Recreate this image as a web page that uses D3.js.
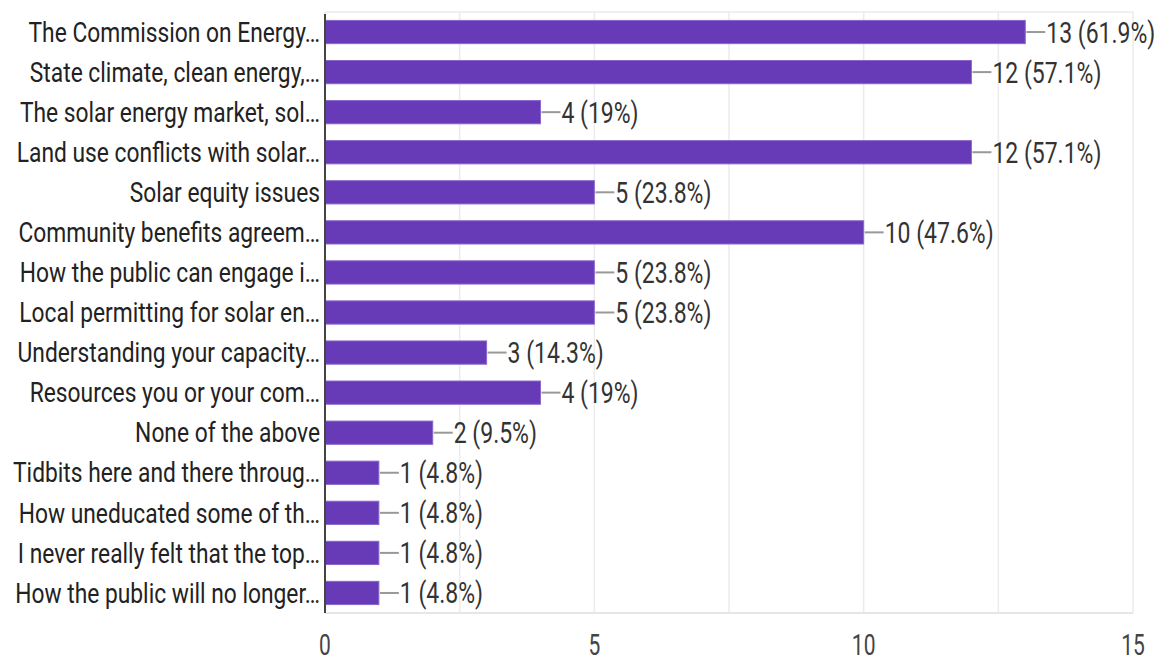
<!DOCTYPE html>
<html>
<head>
<meta charset="utf-8">
<script src="https://cdn.jsdelivr.net/npm/d3@7"></script>
<style>
  body { margin: 0; background: #fff; }
  svg { display: block; font-family: Roboto, "Noto Sans", sans-serif; }
</style>
</head>
<body>
<svg id="chart"></svg>
<script>
// data
const categories = [
  "The Commission on Energy\u2026",
  "State climate, clean energy,\u2026",
  "The solar energy market, sol\u2026",
  "Land use conflicts with solar\u2026",
  "Solar equity issues",
  "Community benefits agreem\u2026",
  "How the public can engage i\u2026",
  "Local permitting for solar en\u2026",
  "Understanding your capacity\u2026",
  "Resources you or your com\u2026",
  "None of the above",
  "Tidbits here and there throug\u2026",
  "How uneducated some of th\u2026",
  "I never really felt that the top\u2026",
  "How the public will no longer\u2026"
];
const counts = [13, 12, 4, 12, 5, 10, 5, 5, 3, 4, 2, 1, 1, 1, 1];
const percents = ["61.9%", "57.1%", "19%", "57.1%", "23.8%", "47.6%", "23.8%", "23.8%", "14.3%", "19%", "9.5%", "4.8%", "4.8%", "4.8%", "4.8%"];
const xTicks = [0, 5, 10, 15];
const gridTicks = [0, 2.5, 5, 7.5, 10, 12.5, 15];

const width = 1157, height = 660;
const margin = { top: 12, right: 24, bottom: 47, left: 325 };

const svg = d3.select("#chart").attr("width", width).attr("height", height);

const x = d3.scaleLinear().domain([0, 15]).range([margin.left, width - margin.right]);
const y = d3.scaleBand().domain(categories).range([margin.top, height - margin.bottom]).paddingInner(0.42).paddingOuter(0.21);
const mid = i => y(categories[i]) + y.bandwidth() / 2;

// the picture's text is stretched vertically, so every label gets a scaleY
function stretched(sel, px, py, s) {
  return sel.attr("transform", (d, i) => `translate(${px(d, i)},${py(d, i)}) scale(1,${s})`);
}

// gridlines
svg.append("g").selectAll("line")
  .data(gridTicks)
  .enter().append("line")
  .attr("x1", d => x(d)).attr("x2", d => x(d))
  .attr("y1", margin.top).attr("y2", height - margin.bottom)
  .attr("stroke", "#ebebeb").attr("stroke-width", 1.5);

svg.append("line")
  .attr("x1", margin.left).attr("x2", x(15))
  .attr("y1", margin.top).attr("y2", margin.top)
  .attr("stroke", "#ebebeb").attr("stroke-width", 1.5);
svg.append("line")
  .attr("x1", margin.left).attr("x2", x(15))
  .attr("y1", height - margin.bottom).attr("y2", height - margin.bottom)
  .attr("stroke", "#e6e6e6").attr("stroke-width", 2);

// bars
svg.append("g").selectAll("rect")
  .data(counts)
  .enter().append("rect")
  .attr("x", x(0))
  .attr("y", (d, i) => y(categories[i]))
  .attr("width", d => x(d) - x(0))
  .attr("height", y.bandwidth())
  .attr("fill", "#673ab7")
  .attr("stroke", "#8a66cc")
  .attr("stroke-width", 1);

// connector lines + value labels
const vals = svg.append("g").selectAll("g")
  .data(counts)
  .enter().append("g");

vals.append("line")
  .attr("x1", d => x(d) + 1).attr("x2", d => x(d) + 20)
  .attr("y1", (d, i) => mid(i))
  .attr("y2", (d, i) => mid(i))
  .attr("stroke", "#999").attr("stroke-width", 2);

stretched(vals.append("text"), d => x(d) + 21, (d, i) => mid(i), 1.27)
  .attr("dy", "0.36em")
  .attr("font-size", 23)
  .attr("fill", "#333")
  .text((d, i) => `${d} (${percents[i]})`);

// category labels
stretched(svg.append("g").selectAll("text")
  .data(categories)
  .enter().append("text"), () => margin.left - 5, (d, i) => mid(i), 1.18)
  .attr("dy", "0.36em")
  .attr("text-anchor", "end")
  .attr("font-size", 22.8)
  .attr("fill", "#222")
  .text(d => d);

// y axis line
svg.append("line")
  .attr("x1", margin.left).attr("x2", margin.left)
  .attr("y1", margin.top + 2).attr("y2", height - margin.bottom)
  .attr("stroke", "#444").attr("stroke-width", 2);

// x tick labels
stretched(svg.append("g").selectAll("text")
  .data(xTicks)
  .enter().append("text"), d => x(d), () => 645, 1.38)
  .attr("dy", "0.36em")
  .attr("text-anchor", "middle")
  .attr("font-size", 21)
  .attr("fill", "#444")
  .text(d => d);
</script>
</body>
</html>
